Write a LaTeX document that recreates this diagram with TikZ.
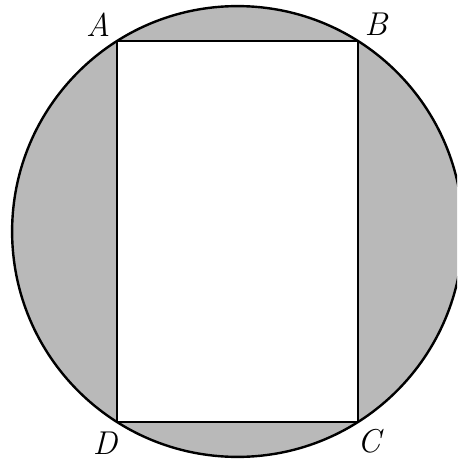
\documentclass[tikz,border=0pt]{standalone}
\usepackage{tikz}

\begin{document}
\begin{tikzpicture}[x=1pt, y=-1pt, line width=2pt,
  lbl/.style={font=\fontsize{33}{36}\selectfont\itshape, inner sep=0pt}]
  \useasboundingbox (0,0) rectangle (457,462);
  \clip (0,0) rectangle (457,462);
  \coordinate (O) at (237.5,231.5);
  \coordinate (A) at (117,41); \coordinate (B) at (358,41);
  \coordinate (C) at (358,422); \coordinate (D) at (117,422);
  \fill[gray!55, even odd rule] (O) circle[radius=225.4pt] (A) rectangle (C);
  \draw[line width=2.4pt] (O) circle[radius=225.4pt];
  \draw (A) -- (B) -- (C) -- (D) -- cycle;
  \node[lbl] (a) at (98,25) {A};
  \node[lbl] (b) at (376,24) {B};
  \node[lbl] (c) at (369,441) {C};
  \node[lbl] (d) at (105,443) {D};
\end{tikzpicture}
\end{document}
